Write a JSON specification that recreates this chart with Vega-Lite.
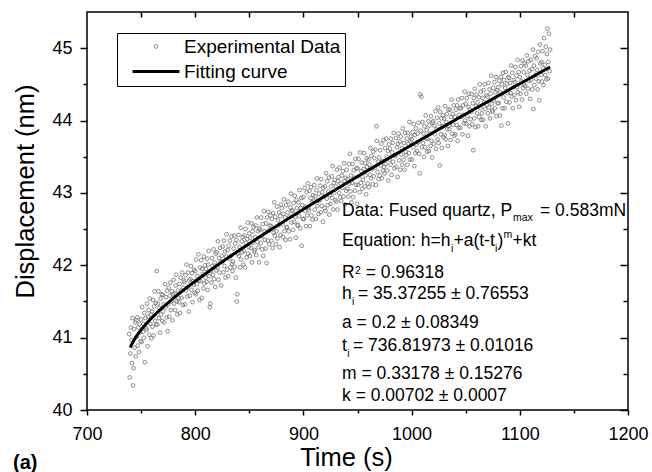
{
  "width": 541,
  "height": 398,
  "autosize": {"type": "none"},
  "padding": {"left": 87, "top": 12, "right": 24, "bottom": 62},
  "background": "#ffffff",
  "title": {"text": "(a)", "orient": "bottom", "anchor": "start", "frame": "bounds", "fontSize": 20, "fontWeight": "bold", "color": "#000000", "offset": -18},
  "config": {
    "font": "Liberation Sans",
    "view": {"stroke": "#000000", "strokeWidth": 1.5},
    "axis": {"grid": false, "domain": false, "tickColor": "#000000", "tickWidth": 1.5, "labelColor": "#000000", "labelFont": "Liberation Sans", "labelFontSize": 18, "labelFlush": false, "labelOverlap": false, "titleColor": "#000000", "titleFont": "Liberation Sans", "titleFontWeight": "normal", "titleFontSize": 25.5}
  },
  "datasets": {
    "obs": [
      {"t":739,"h":41.05},{"t":739.5,"h":40.45},{"t":740,"h":40.78},{"t":740.5,"h":41.14},{"t":741,"h":40.97},{"t":741.5,"h":40.65},{"t":742,"h":41.27},{"t":742.5,"h":40.34},{"t":743,"h":40.58},{"t":743.5,"h":41.12},{"t":744,"h":40.86},{"t":744.5,"h":41.21},
      {"t":745,"h":40.74},{"t":745.5,"h":41.24},{"t":746,"h":41.01},{"t":746.5,"h":41.28},{"t":747,"h":40.89},{"t":747.5,"h":41.14},{"t":748,"h":40.80},{"t":748.5,"h":41.19},{"t":749,"h":41.07},{"t":749.5,"h":40.95},
      {"t":750,"h":41.25},{"t":750.5,"h":40.94},{"t":751,"h":41.42},{"t":751.5,"h":41.08},{"t":752,"h":41.19},{"t":752.5,"h":41.00},{"t":753,"h":41.34},{"t":753.5,"h":40.66},{"t":754,"h":41.27},{"t":754.5,"h":41.13},
      {"t":755,"h":41.11},{"t":755.5,"h":41.47},{"t":756,"h":40.88},{"t":756.5,"h":41.29},{"t":757,"h":41.38},{"t":757.5,"h":41.04},{"t":758,"h":41.54},{"t":758.5,"h":41.19},{"t":759,"h":41.32},{"t":759.5,"h":40.99},
      {"t":760,"h":41.36},{"t":760.5,"h":41.15},{"t":761,"h":41.52},{"t":761.5,"h":41.03},{"t":762,"h":41.43},{"t":762.5,"h":41.64},{"t":763,"h":41.23},{"t":763.5,"h":41.48},{"t":764,"h":41.18},{"t":764.5,"h":41.92},
      {"t":765,"h":41.18},{"t":765.5,"h":41.47},{"t":766,"h":41.64},{"t":766.5,"h":41.27},{"t":767,"h":41.41},{"t":767.5,"h":41.07},{"t":768,"h":41.54},{"t":768.5,"h":41.32},{"t":769,"h":41.60},{"t":769.5,"h":41.23},
      {"t":770,"h":41.59},{"t":770.5,"h":41.36},{"t":771,"h":41.46},{"t":771.5,"h":41.21},{"t":772,"h":41.74},{"t":772.5,"h":41.42},{"t":773,"h":41.56},{"t":773.5,"h":41.28},{"t":774,"h":41.65},{"t":774.5,"h":41.09},
      {"t":775,"h":41.46},{"t":775.5,"h":41.69},{"t":776,"h":41.29},{"t":776.5,"h":41.58},{"t":777,"h":41.76},{"t":777.5,"h":41.38},{"t":778,"h":41.50},{"t":778.5,"h":41.64},{"t":779,"h":41.24},{"t":779.5,"h":41.60},
      {"t":780,"h":41.80},{"t":780.5,"h":41.47},{"t":781,"h":41.61},{"t":781.5,"h":41.38},{"t":782,"h":41.72},{"t":782.5,"h":41.87},{"t":783,"h":41.50},{"t":783.5,"h":41.32},{"t":784,"h":41.65},{"t":784.5,"h":41.55},
      {"t":785,"h":41.49},{"t":785.5,"h":41.74},{"t":786,"h":41.34},{"t":786.5,"h":41.83},{"t":787,"h":41.65},{"t":787.5,"h":41.55},{"t":788,"h":41.90},{"t":788.5,"h":41.45},{"t":789,"h":41.69},{"t":789.5,"h":41.79},
      {"t":790,"h":41.77},{"t":790.5,"h":41.46},{"t":791,"h":41.86},{"t":791.5,"h":41.65},{"t":792,"h":42.01},{"t":792.5,"h":41.57},{"t":793,"h":41.70},{"t":793.5,"h":41.90},{"t":794,"h":41.36},{"t":794.5,"h":41.79},
      {"t":795,"h":41.58},{"t":795.5,"h":41.81},{"t":796,"h":41.99},{"t":796.5,"h":41.66},{"t":797,"h":41.89},{"t":797.5,"h":41.49},{"t":798,"h":41.78},{"t":798.5,"h":41.73},{"t":799,"h":41.94},{"t":799.5,"h":41.62},
      {"t":800,"h":41.92},{"t":800.5,"h":41.60},{"t":801,"h":42.08},{"t":801.5,"h":41.74},{"t":802,"h":41.85},{"t":802.5,"h":41.65},{"t":803,"h":42.15},{"t":803.5,"h":41.79},{"t":804,"h":41.52},{"t":804.5,"h":41.97},
      {"t":805,"h":41.78},{"t":805.5,"h":42.07},{"t":806,"h":41.55},{"t":806.5,"h":41.95},{"t":807,"h":41.88},{"t":807.5,"h":41.68},{"t":808,"h":42.12},{"t":808.5,"h":41.75},{"t":809,"h":42.00},{"t":809.5,"h":41.83},
      {"t":810,"h":41.95},{"t":810.5,"h":41.77},{"t":811,"h":42.09},{"t":811.5,"h":41.66},{"t":812,"h":42.01},{"t":812.5,"h":42.20},{"t":813,"h":41.85},{"t":813.5,"h":41.42},{"t":814,"h":41.47},{"t":814.5,"h":41.92},
      {"t":815,"h":41.76},{"t":815.5,"h":42.10},{"t":816,"h":41.99},{"t":816.5,"h":41.87},{"t":817,"h":42.22},{"t":817.5,"h":41.81},{"t":818,"h":42.04},{"t":818.5,"h":41.70},{"t":819,"h":42.16},{"t":819.5,"h":41.93},
      {"t":820,"h":42.18},{"t":820.5,"h":41.97},{"t":821,"h":42.33},{"t":821.5,"h":41.80},{"t":822,"h":42.10},{"t":822.5,"h":41.90},{"t":823,"h":42.24},{"t":823.5,"h":42.05},{"t":824,"h":41.72},{"t":824.5,"h":42.13},
      {"t":825,"h":42.05},{"t":825.5,"h":42.26},{"t":826,"h":41.90},{"t":826.5,"h":42.34},{"t":827,"h":41.99},{"t":827.5,"h":42.19},{"t":828,"h":41.83},{"t":828.5,"h":42.12},{"t":829,"h":42.43},{"t":829.5,"h":41.94},
      {"t":830,"h":42.21},{"t":830.5,"h":41.85},{"t":831,"h":42.27},{"t":831.5,"h":42.09},{"t":832,"h":42.34},{"t":832.5,"h":41.97},{"t":833,"h":42.13},{"t":833.5,"h":42.40},{"t":834,"h":42.02},{"t":834.5,"h":41.92},
      {"t":835,"h":42.05},{"t":835.5,"h":42.23},{"t":836,"h":42.41},{"t":836.5,"h":41.98},{"t":837,"h":42.30},{"t":837.5,"h":41.83},{"t":838,"h":42.35},{"t":838.5,"h":41.50},{"t":839,"h":41.60},{"t":839.5,"h":42.16},
      {"t":840,"h":42.42},{"t":840.5,"h":42.13},{"t":841,"h":42.25},{"t":841.5,"h":41.97},{"t":842,"h":42.52},{"t":842.5,"h":42.08},{"t":843,"h":42.33},{"t":843.5,"h":42.18},{"t":844,"h":42.39},{"t":844.5,"h":42.01},
      {"t":845,"h":42.20},{"t":845.5,"h":42.41},{"t":846,"h":41.97},{"t":846.5,"h":42.50},{"t":847,"h":42.31},{"t":847.5,"h":42.11},{"t":848,"h":42.36},{"t":848.5,"h":42.59},{"t":849,"h":42.16},{"t":849.5,"h":42.25},
      {"t":850,"h":42.44},{"t":850.5,"h":42.13},{"t":851,"h":42.38},{"t":851.5,"h":42.24},{"t":852,"h":42.58},{"t":852.5,"h":42.04},{"t":853,"h":42.47},{"t":853.5,"h":42.31},{"t":854,"h":42.53},{"t":854.5,"h":42.19},
      {"t":855,"h":42.21},{"t":855.5,"h":42.39},{"t":856,"h":42.55},{"t":856.5,"h":42.14},{"t":857,"h":42.66},{"t":857.5,"h":42.32},{"t":858,"h":42.47},{"t":858.5,"h":42.25},{"t":859,"h":42.04},{"t":859.5,"h":42.51},
      {"t":860,"h":42.49},{"t":860.5,"h":42.31},{"t":861,"h":42.66},{"t":861.5,"h":42.40},{"t":862,"h":42.22},{"t":862.5,"h":42.57},{"t":863,"h":42.13},{"t":863.5,"h":42.75},{"t":864,"h":42.47},{"t":864.5,"h":42.35},
      {"t":865,"h":42.23},{"t":865.5,"h":42.58},{"t":866,"h":42.03},{"t":866.5,"h":42.66},{"t":867,"h":42.34},{"t":867.5,"h":42.74},{"t":868,"h":42.48},{"t":868.5,"h":42.29},{"t":869,"h":42.55},{"t":869.5,"h":42.69},
      {"t":870,"h":42.54},{"t":870.5,"h":42.34},{"t":871,"h":42.64},{"t":871.5,"h":42.24},{"t":872,"h":42.72},{"t":872.5,"h":42.45},{"t":873,"h":42.87},{"t":873.5,"h":42.41},{"t":874,"h":42.67},{"t":874.5,"h":42.29},
      {"t":875,"h":42.47},{"t":875.5,"h":42.81},{"t":876,"h":42.37},{"t":876.5,"h":42.62},{"t":877,"h":42.55},{"t":877.5,"h":42.73},{"t":878,"h":42.25},{"t":878.5,"h":42.68},{"t":879,"h":42.42},{"t":879.5,"h":42.84},
      {"t":880,"h":42.79},{"t":880.5,"h":42.57},{"t":881,"h":42.39},{"t":881.5,"h":42.71},{"t":882,"h":42.91},{"t":882.5,"h":42.47},{"t":883,"h":42.66},{"t":883.5,"h":42.35},{"t":884,"h":42.83},{"t":884.5,"h":42.53},
      {"t":885,"h":42.52},{"t":885.5,"h":42.73},{"t":886,"h":42.88},{"t":886.5,"h":42.47},{"t":887,"h":42.67},{"t":887.5,"h":42.36},{"t":888,"h":42.80},{"t":888.5,"h":42.99},{"t":889,"h":42.59},{"t":889.5,"h":42.76},
      {"t":890,"h":42.75},{"t":890.5,"h":42.49},{"t":891,"h":42.86},{"t":891.5,"h":42.60},{"t":892,"h":42.96},{"t":892.5,"h":42.67},{"t":893,"h":42.38},{"t":893.5,"h":42.90},{"t":894,"h":42.79},{"t":894.5,"h":42.55},
      {"t":895,"h":42.56},{"t":895.5,"h":42.87},{"t":896,"h":42.68},{"t":896.5,"h":43.04},{"t":897,"h":42.51},{"t":897.5,"h":42.79},{"t":898,"h":42.93},{"t":898.5,"h":42.27},{"t":899,"h":42.83},{"t":899.5,"h":42.64},
      {"t":900,"h":42.94},{"t":900.5,"h":42.64},{"t":901,"h":43.07},{"t":901.5,"h":42.75},{"t":902,"h":42.81},{"t":902.5,"h":42.54},{"t":903,"h":43.01},{"t":903.5,"h":42.69},{"t":904,"h":43.13},{"t":904.5,"h":42.79},
      {"t":905,"h":42.76},{"t":905.5,"h":43.03},{"t":906,"h":42.54},{"t":906.5,"h":42.93},{"t":907,"h":43.08},{"t":907.5,"h":42.69},{"t":908,"h":42.87},{"t":908.5,"h":42.63},{"t":909,"h":42.97},{"t":909.5,"h":42.89},
      {"t":910,"h":43.11},{"t":910.5,"h":42.77},{"t":911,"h":42.95},{"t":911.5,"h":42.64},{"t":912,"h":43.04},{"t":912.5,"h":43.20},{"t":913,"h":42.82},{"t":913.5,"h":42.89},{"t":914,"h":42.71},{"t":914.5,"h":42.99},
      {"t":915,"h":42.90},{"t":915.5,"h":43.10},{"t":916,"h":42.73},{"t":916.5,"h":43.19},{"t":917,"h":42.82},{"t":917.5,"h":43.01},{"t":918,"h":42.60},{"t":918.5,"h":43.07},{"t":919,"h":42.95},{"t":919.5,"h":42.79},
      {"t":920,"h":43.09},{"t":920.5,"h":42.75},{"t":921,"h":43.27},{"t":921.5,"h":42.92},{"t":922,"h":43.16},{"t":922.5,"h":42.83},{"t":923,"h":43.02},{"t":923.5,"h":43.21},{"t":924,"h":42.70},{"t":924.5,"h":42.97},
      {"t":925,"h":42.85},{"t":925.5,"h":43.09},{"t":926,"h":43.23},{"t":926.5,"h":42.93},{"t":927,"h":43.37},{"t":927.5,"h":42.77},{"t":928,"h":43.14},{"t":928.5,"h":43.00},{"t":929,"h":43.18},{"t":929.5,"h":42.90},
      {"t":930,"h":43.09},{"t":930.5,"h":42.88},{"t":931,"h":43.32},{"t":931.5,"h":42.77},{"t":932,"h":43.16},{"t":932.5,"h":43.22},{"t":933,"h":43.00},{"t":933.5,"h":43.35},{"t":934,"h":42.94},{"t":934.5,"h":43.13},
      {"t":935,"h":42.89},{"t":935.5,"h":43.24},{"t":936,"h":43.07},{"t":936.5,"h":43.30},{"t":937,"h":42.95},{"t":937.5,"h":43.41},{"t":938,"h":43.16},{"t":938.5,"h":42.84},{"t":939,"h":43.21},{"t":939.5,"h":43.03},
      {"t":940,"h":43.32},{"t":940.5,"h":43.06},{"t":941,"h":43.19},{"t":941.5,"h":42.95},{"t":942,"h":43.40},{"t":942.5,"h":43.13},{"t":943,"h":43.54},{"t":943.5,"h":43.02},{"t":944,"h":43.24},{"t":944.5,"h":42.87},
      {"t":945,"h":43.14},{"t":945.5,"h":43.40},{"t":946,"h":42.94},{"t":946.5,"h":43.31},{"t":947,"h":43.21},{"t":947.5,"h":43.03},{"t":948,"h":43.47},{"t":948.5,"h":43.11},{"t":949,"h":43.34},{"t":949.5,"h":42.85},
      {"t":950,"h":43.34},{"t":950.5,"h":43.11},{"t":951,"h":43.47},{"t":951.5,"h":43.23},{"t":952,"h":43.01},{"t":952.5,"h":43.56},{"t":953,"h":43.14},{"t":953.5,"h":43.30},{"t":954,"h":43.42},{"t":954.5,"h":43.06},
      {"t":955,"h":43.18},{"t":955.5,"h":43.33},{"t":956,"h":43.55},{"t":956.5,"h":43.09},{"t":957,"h":43.41},{"t":957.5,"h":43.24},{"t":958,"h":42.98},{"t":958.5,"h":43.48},{"t":959,"h":43.36},{"t":959.5,"h":43.13},
      {"t":960,"h":43.46},{"t":960.5,"h":43.08},{"t":961,"h":43.39},{"t":961.5,"h":43.25},{"t":962,"h":43.62},{"t":962.5,"h":43.20},{"t":963,"h":43.51},{"t":963.5,"h":43.33},{"t":964,"h":43.12},{"t":964.5,"h":43.57},
      {"t":965,"h":43.23},{"t":965.5,"h":43.48},{"t":966,"h":43.35},{"t":966.5,"h":43.60},{"t":967,"h":43.11},{"t":967.5,"h":43.92},{"t":968,"h":43.72},{"t":968.5,"h":43.29},{"t":969,"h":43.43},{"t":969.5,"h":43.19},
      {"t":970,"h":43.49},{"t":970.5,"h":43.24},{"t":971,"h":43.59},{"t":971.5,"h":43.38},{"t":972,"h":43.68},{"t":972.5,"h":43.20},{"t":973,"h":43.44},{"t":973.5,"h":43.31},{"t":974,"h":43.73},{"t":974.5,"h":43.36},
      {"t":975,"h":43.27},{"t":975.5,"h":43.62},{"t":976,"h":43.40},{"t":976.5,"h":43.75},{"t":977,"h":43.50},{"t":977.5,"h":43.31},{"t":978,"h":43.58},{"t":978.5,"h":43.17},{"t":979,"h":43.67},{"t":979.5,"h":43.46},
      {"t":980,"h":43.61},{"t":980.5,"h":43.39},{"t":981,"h":43.75},{"t":981.5,"h":43.25},{"t":982,"h":43.56},{"t":982.5,"h":43.69},{"t":983,"h":43.43},{"t":983.5,"h":43.83},{"t":984,"h":43.34},{"t":984.5,"h":43.52},
      {"t":985,"h":43.51},{"t":985.5,"h":43.76},{"t":986,"h":43.36},{"t":986.5,"h":43.63},{"t":987,"h":43.22},{"t":987.5,"h":43.68},{"t":988,"h":43.82},{"t":988.5,"h":43.45},{"t":989,"h":43.71},{"t":989.5,"h":43.32},
      {"t":990,"h":43.78},{"t":990.5,"h":43.53},{"t":991,"h":43.62},{"t":991.5,"h":43.39},{"t":992,"h":43.89},{"t":992.5,"h":43.46},{"t":993,"h":43.69},{"t":993.5,"h":43.32},{"t":994,"h":43.83},{"t":994.5,"h":43.57},
      {"t":995,"h":43.52},{"t":995.5,"h":43.75},{"t":996,"h":43.39},{"t":996.5,"h":43.83},{"t":997,"h":43.68},{"t":997.5,"h":43.55},{"t":998,"h":43.98},{"t":998.5,"h":43.46},{"t":999,"h":43.71},{"t":999.5,"h":43.78},
      {"t":1000,"h":43.74},{"t":1000.5,"h":43.46},{"t":1001,"h":43.84},{"t":1001.5,"h":43.63},{"t":1002,"h":43.95},{"t":1002.5,"h":43.37},{"t":1003,"h":43.80},{"t":1003.5,"h":43.55},{"t":1004,"h":43.89},{"t":1004.5,"h":43.67},
      {"t":1005,"h":43.58},{"t":1005.5,"h":43.82},{"t":1006,"h":43.70},{"t":1006.5,"h":43.97},{"t":1007,"h":43.54},{"t":1007.5,"h":43.27},{"t":1008,"h":44.36},{"t":1008.5,"h":43.86},{"t":1009,"h":44.33},{"t":1009.5,"h":43.63},
      {"t":1010,"h":43.98},{"t":1010.5,"h":43.69},{"t":1011,"h":43.82},{"t":1011.5,"h":43.50},{"t":1012,"h":43.92},{"t":1012.5,"h":43.63},{"t":1013,"h":44.07},{"t":1013.5,"h":43.75},{"t":1014,"h":43.87},{"t":1014.5,"h":43.57},
      {"t":1015,"h":43.75},{"t":1015.5,"h":43.99},{"t":1016,"h":43.58},{"t":1016.5,"h":43.93},{"t":1017,"h":43.82},{"t":1017.5,"h":43.65},{"t":1018,"h":44.06},{"t":1018.5,"h":43.72},{"t":1019,"h":43.49},{"t":1019.5,"h":43.97},
      {"t":1020,"h":43.99},{"t":1020.5,"h":43.68},{"t":1021,"h":43.93},{"t":1021.5,"h":43.81},{"t":1022,"h":44.13},{"t":1022.5,"h":43.61},{"t":1023,"h":43.88},{"t":1023.5,"h":44.04},{"t":1024,"h":43.74},{"t":1024.5,"h":44.18},
      {"t":1025,"h":43.69},{"t":1025.5,"h":43.96},{"t":1026,"h":43.38},{"t":1026.5,"h":44.12},{"t":1027,"h":43.81},{"t":1027.5,"h":44.03},{"t":1028,"h":43.62},{"t":1028.5,"h":43.92},{"t":1029,"h":44.07},{"t":1029.5,"h":43.77},
      {"t":1030,"h":44.03},{"t":1030.5,"h":43.80},{"t":1031,"h":44.20},{"t":1031.5,"h":43.74},{"t":1032,"h":43.98},{"t":1032.5,"h":44.09},{"t":1033,"h":43.88},{"t":1033.5,"h":43.65},{"t":1034,"h":44.15},{"t":1034.5,"h":43.93},
      {"t":1035,"h":43.88},{"t":1035.5,"h":44.15},{"t":1036,"h":43.73},{"t":1036.5,"h":44.05},{"t":1037,"h":44.29},{"t":1037.5,"h":43.82},{"t":1038,"h":44.09},{"t":1038.5,"h":43.94},{"t":1039,"h":44.21},{"t":1039.5,"h":43.79},
      {"t":1040,"h":44.05},{"t":1040.5,"h":43.81},{"t":1041,"h":44.15},{"t":1041.5,"h":43.94},{"t":1042,"h":44.21},{"t":1042.5,"h":43.72},{"t":1043,"h":44.29},{"t":1043.5,"h":43.90},{"t":1044,"h":44.08},{"t":1044.5,"h":44.17},
      {"t":1045,"h":43.90},{"t":1045.5,"h":44.17},{"t":1046,"h":44.05},{"t":1046.5,"h":44.31},{"t":1047,"h":43.81},{"t":1047.5,"h":44.21},{"t":1048,"h":44.08},{"t":1048.5,"h":43.96},{"t":1049,"h":44.40},{"t":1049.5,"h":44.00},
      {"t":1050,"h":44.23},{"t":1050.5,"h":43.96},{"t":1051,"h":44.31},{"t":1051.5,"h":44.06},{"t":1052,"h":43.79},{"t":1052.5,"h":44.19},{"t":1053,"h":44.37},{"t":1053.5,"h":43.92},{"t":1054,"h":44.15},{"t":1054.5,"h":44.02},
      {"t":1055,"h":44.12},{"t":1055.5,"h":44.37},{"t":1056,"h":43.95},{"t":1056.5,"h":44.24},{"t":1057,"h":43.59},{"t":1057.5,"h":44.31},{"t":1058,"h":44.03},{"t":1058.5,"h":44.44},{"t":1059,"h":43.91},{"t":1059.5,"h":44.20},
      {"t":1060,"h":44.36},{"t":1060.5,"h":44.10},{"t":1061,"h":44.25},{"t":1061.5,"h":43.92},{"t":1062,"h":44.32},{"t":1062.5,"h":44.05},{"t":1063,"h":44.50},{"t":1063.5,"h":44.17},{"t":1064,"h":44.40},{"t":1064.5,"h":44.01},
      {"t":1065,"h":44.10},{"t":1065.5,"h":44.31},{"t":1066,"h":44.01},{"t":1066.5,"h":44.42},{"t":1067,"h":44.25},{"t":1067.5,"h":44.50},{"t":1068,"h":44.16},{"t":1068.5,"h":43.92},{"t":1069,"h":44.35},{"t":1069.5,"h":44.22},
      {"t":1070,"h":44.33},{"t":1070.5,"h":44.10},{"t":1071,"h":44.52},{"t":1071.5,"h":44.18},{"t":1072,"h":44.43},{"t":1072.5,"h":44.03},{"t":1073,"h":44.37},{"t":1073.5,"h":44.62},{"t":1074,"h":44.23},{"t":1074.5,"h":44.14},
      {"t":1075,"h":44.12},{"t":1075.5,"h":44.45},{"t":1076,"h":44.28},{"t":1076.5,"h":44.53},{"t":1077,"h":44.17},{"t":1077.5,"h":44.39},{"t":1078,"h":44.60},{"t":1078.5,"h":44.06},{"t":1079,"h":44.42},{"t":1079.5,"h":44.24},
      {"t":1080,"h":44.46},{"t":1080.5,"h":44.24},{"t":1081,"h":44.55},{"t":1081.5,"h":44.07},{"t":1082,"h":44.39},{"t":1082.5,"h":44.60},{"t":1083,"h":43.93},{"t":1083.5,"h":44.50},{"t":1084,"h":44.17},{"t":1084.5,"h":44.66},
      {"t":1085,"h":44.32},{"t":1085.5,"h":44.56},{"t":1086,"h":44.17},{"t":1086.5,"h":44.45},{"t":1087,"h":44.67},{"t":1087.5,"h":44.26},{"t":1088,"h":44.51},{"t":1088.5,"h":44.38},{"t":1089,"h":43.96},{"t":1089.5,"h":44.60},
      {"t":1090,"h":44.59},{"t":1090.5,"h":44.25},{"t":1091,"h":44.52},{"t":1091.5,"h":44.38},{"t":1092,"h":44.76},{"t":1092.5,"h":44.33},{"t":1093,"h":44.66},{"t":1093.5,"h":44.17},{"t":1094,"h":44.46},{"t":1094.5,"h":44.56},
      {"t":1095,"h":44.35},{"t":1095.5,"h":44.53},{"t":1096,"h":44.74},{"t":1096.5,"h":44.28},{"t":1097,"h":44.62},{"t":1097.5,"h":44.46},{"t":1098,"h":44.84},{"t":1098.5,"h":44.39},{"t":1099,"h":44.67},{"t":1099.5,"h":44.19},
      {"t":1100,"h":44.60},{"t":1100.5,"h":44.37},{"t":1101,"h":44.75},{"t":1101.5,"h":44.54},{"t":1102,"h":44.29},{"t":1102.5,"h":44.83},{"t":1103,"h":44.45},{"t":1103.5,"h":44.67},{"t":1104,"h":44.50},{"t":1104.5,"h":44.79},
      {"t":1105,"h":44.48},{"t":1105.5,"h":44.76},{"t":1106,"h":44.37},{"t":1106.5,"h":44.90},{"t":1107,"h":44.63},{"t":1107.5,"h":44.44},{"t":1108,"h":44.82},{"t":1108.5,"h":44.55},{"t":1109,"h":44.69},{"t":1109.5,"h":44.30},
      {"t":1110,"h":44.84},{"t":1110.5,"h":44.56},{"t":1111,"h":44.71},{"t":1111.5,"h":44.43},{"t":1112,"h":44.98},{"t":1112.5,"h":44.16},{"t":1113,"h":44.76},{"t":1113.5,"h":44.49},{"t":1114,"h":44.89},{"t":1114.5,"h":44.63},
      {"t":1115,"h":44.58},{"t":1115.5,"h":44.86},{"t":1116,"h":44.70},{"t":1116.5,"h":44.43},{"t":1117,"h":44.95},{"t":1117.5,"h":44.54},{"t":1118,"h":44.28},{"t":1118.5,"h":45.05},{"t":1119,"h":44.79},{"t":1119.5,"h":44.63},
      {"t":1120,"h":44.81},{"t":1120.5,"h":44.54},{"t":1121,"h":44.96},{"t":1121.5,"h":44.72},{"t":1122,"h":44.49},{"t":1122.5,"h":45.14},{"t":1123,"h":44.77},{"t":1123.5,"h":44.63},{"t":1124,"h":45.02},{"t":1124.5,"h":44.57},
      {"t":1125,"h":44.92},{"t":1125.5,"h":45.27},{"t":1126,"h":44.58},{"t":1126.5,"h":44.81},{"t":1127,"h":45.20},{"t":1127.5,"h":44.68},{"t":1128,"h":44.98}
    ],
    "fit": [
      {"t":740,"h":40.861},{"t":741,"h":40.896},{"t":742,"h":40.927},{"t":742.5,"h":40.941},{"t":743,"h":40.954},{"t":745,"h":41.004},{"t":747.5,"h":41.059},{"t":750,"h":41.108},{"t":752.5,"h":41.154},{"t":755,"h":41.196},{"t":757.5,"h":41.237},{"t":760,"h":41.275},{"t":762.5,"h":41.312},{"t":765,"h":41.348},{"t":767.5,"h":41.383},{"t":770,"h":41.417},{"t":772.5,"h":41.450},{"t":777.5,"h":41.515},{"t":780,"h":41.546},{"t":782.5,"h":41.576},{"t":787.5,"h":41.636},{"t":790,"h":41.666},{"t":792.5,"h":41.695},{"t":797.5,"h":41.752},{"t":800,"h":41.780},{"t":820,"h":41.996},{"t":840,"h":42.201},{"t":860,"h":42.398},{"t":880,"h":42.588},{"t":900,"h":42.775},{"t":925,"h":43.003},{"t":950,"h":43.226},{"t":975,"h":43.446},{"t":1000,"h":43.663},{"t":1025,"h":43.878},{"t":1050,"h":44.090},{"t":1075,"h":44.300},{"t":1100,"h":44.509},{"t":1128,"h":44.740}
    ],
    "notes": [
      {"label":"Data: Fused quartz, P","t":935.7,"h":42.681},
      {"label":"= 0.583mN","t":1118.7,"h":42.681},
      {"label":"Equation: h=h","t":935.7,"h":42.267},
      {"label":"+a(t-t","t":1038.7,"h":42.267},
      {"label":")","t":1079.4,"h":42.267},
      {"label":"+kt","t":1093.3,"h":42.267},
      {"label":"R","t":935.7,"h":41.820},
      {"label":"= 0.96318","t":957.6,"h":41.820},
      {"label":"h","t":935.7,"h":41.530},
      {"label":"= 35.37255 ± 0.76553","t":950.5,"h":41.530},
      {"label":"a = 0.2 ± 0.08349","t":935.7,"h":41.129},
      {"label":"t","t":935.7,"h":40.815},
      {"label":"= 736.81973 ± 0.01016","t":945.8,"h":40.815},
      {"label":"m = 0.33178 ± 0.15276","t":935.7,"h":40.424},
      {"label":"k = 0.00702 ± 0.0007","t":935.7,"h":40.124}
    ],
    "notes_small": [
      {"label":"max","t":1093.7,"h":42.612},
      {"label":"i","t":1036.4,"h":42.190},
      {"label":"i","t":1077.1,"h":42.190},
      {"label":"m","t":1084.9,"h":42.377},
      {"label":"2","t":947.7,"h":41.886},
      {"label":"i","t":944.9,"h":41.454},
      {"label":"i","t":940.5,"h":40.739}
    ]
  },
  "layer": [
    {
      "data": {"name": "obs"},
      "mark": {"type": "point", "filled": false, "opacity": 1},
      "encoding": {
        "x": {"field": "t", "type": "quantitative", "scale": {"domain": [700, 1200], "nice": false, "zero": false},
              "axis": {"orient": "bottom", "values": [700, 800, 900, 1000, 1100, 1200], "format": "d", "tickSize": 5, "labelPadding": 10, "title": "Time (s)", "titleX": 259, "titleY": 55, "titleAlign": "center", "titleBaseline": "alphabetic"}},
        "y": {"field": "h", "type": "quantitative", "scale": {"domain": [40, 45.5], "nice": false, "zero": false},
              "axis": {"orient": "left", "values": [40, 41, 42, 43, 44, 45], "format": "d", "tickSize": 7, "labelPadding": 8, "title": "Displacement (nm)", "titleX": -54, "titleY": 179, "titleAngle": -90, "titleAlign": "center", "titleBaseline": "alphabetic"}},
        "color": {
          "datum": "Experimental Data",
          "scale": {"domain": ["Experimental Data", "Fitting curve"], "range": ["#707070", "#000000"]},
          "legend": {
            "title": null, "orient": "none", "legendX": 30, "legendY": 21, "padding": 4,
            "strokeColor": "#000000", "fillColor": "#ffffff",
            "labelFontSize": 19, "labelColor": "#000000", "labelFont": "Liberation Sans",
            "labelExpr": "datum.label + '   '",
            "symbolOffset": 25.5, "labelOffset": 18.5, "rowPadding": 5, "symbolOpacity": 1
          }
        },
        "shape": {"datum": "Experimental Data", "scale": {"domain": ["Experimental Data", "Fitting curve"], "range": ["circle", "M-5,0L5,0"]}},
        "size": {"datum": "Experimental Data", "scale": {"type": "ordinal", "domain": ["Experimental Data", "Fitting curve"], "range": [14, 88]}},
        "strokeWidth": {"datum": "Experimental Data", "scale": {"type": "ordinal", "domain": ["Experimental Data", "Fitting curve"], "range": [0.8, 3]}}
      }
    },
    {
      "data": {"name": "fit"},
      "mark": {"type": "line", "strokeWidth": 3},
      "encoding": {
        "x": {"field": "t", "type": "quantitative", "scale": {"domain": [700, 1200], "nice": false, "zero": false},
              "axis": {"orient": "bottom", "values": [750, 850, 950, 1050, 1150], "tickSize": 3, "labels": false, "title": null}},
        "y": {"field": "h", "type": "quantitative", "scale": {"domain": [40, 45.5], "nice": false, "zero": false},
              "axis": {"orient": "left", "values": [40.5, 41.5, 42.5, 43.5, 44.5], "tickSize": 4, "labels": false, "title": null}},
        "color": {"datum": "Fitting curve"}
      }
    },
    {
      "data": {"name": "notes"},
      "mark": {"type": "text", "align": "left", "baseline": "alphabetic", "fontSize": 17.5, "color": "#000000"},
      "encoding": {
        "x": {"field": "t", "type": "quantitative", "scale": {"domain": [700, 1200], "nice": false, "zero": false},
              "axis": {"orient": "top", "values": [750, 800, 850, 900, 950, 1000, 1050, 1100, 1150], "offset": -5, "tickSize": 5, "labels": false, "title": null}},
        "y": {"field": "h", "type": "quantitative", "scale": {"domain": [40, 45.5], "nice": false, "zero": false},
              "axis": {"orient": "right", "values": [40, 41, 42, 43, 44, 45], "offset": -8, "tickSize": 8, "labels": false, "title": null}},
        "text": {"field": "label"}
      }
    },
    {
      "data": {"name": "notes_small"},
      "mark": {"type": "text", "align": "left", "baseline": "alphabetic", "fontSize": 10.5, "color": "#000000"},
      "encoding": {
        "x": {"field": "t", "type": "quantitative", "scale": {"domain": [700, 1200], "nice": false, "zero": false}, "axis": null},
        "y": {"field": "h", "type": "quantitative", "scale": {"domain": [40, 45.5], "nice": false, "zero": false},
              "axis": {"orient": "right", "values": [40.5, 41.5, 42.5, 43.5, 44.5], "offset": -5, "tickSize": 5, "labels": false, "title": null}},
        "text": {"field": "label"}
      }
    }
  ],
  "resolve": {"axis": {"x": "independent", "y": "independent"}}
}
